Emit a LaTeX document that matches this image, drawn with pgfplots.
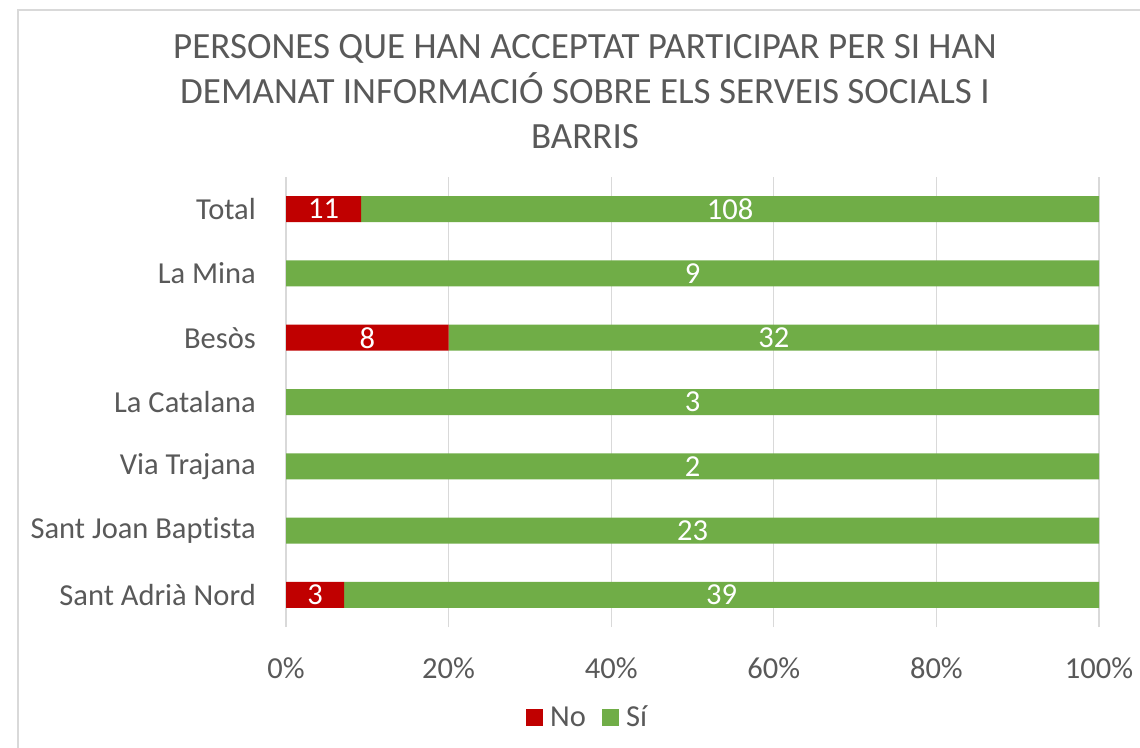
\documentclass[border=0pt]{standalone}
\usepackage{pgfplots}
\pgfplotsset{compat=1.18}
\usepackage{fontspec}
\setmainfont{Carlito}[Ligatures=NoCommon]
\definecolor{txt}{HTML}{595959}
\definecolor{nored}{HTML}{C00000}
\definecolor{sigreen}{HTML}{70AD47}
\definecolor{gridc}{HTML}{D9D9D9}
\begin{document}
\begin{tikzpicture}[x=1pt,y=1pt]
\useasboundingbox (0,0) rectangle (1140,-747);
\clip (0,0) rectangle (1140,-747);
\fill[white] (0,0) rectangle (1140,-747);
\draw[gridc, line width=1.5pt] (18,-10) rectangle (1200,-800);
\node[align=center, text=txt, font=\fontsize{37}{45}\selectfont] at (585,-92) {PERSONES QUE HAN ACCEPTAT PARTICIPAR PER SI HAN\\DEMANAT INFORMACIÓ SOBRE ELS SERVEIS SOCIALS I\\BARRIS};
\begin{axis}[
  at={(286pt,-627pt)}, anchor=south west,
  width=813pt, height=450pt, scale only axis,
  xbar stacked, bar width=26pt,
  xmin=0, xmax=100, ymin=-0.5, ymax=6.5,
  axis line style={draw=none}, major tick length=0pt,
  xtick={0,20,40,60,80,100},
  xticklabels={0\%,20\%,40\%,60\%,80\%,100\%},
  ytick={0,1,2,3,4,5,6},
  yticklabels={Sant Adrià Nord, Sant Joan Baptista, Via Trajana, La Catalana, Besòs, La Mina, Total},
  xmajorgrids, major grid style={gridc, line width=1.2pt},
  tick label style={text=txt, font=\fontsize{30.5}{36}\selectfont, inner sep=0pt},
  xticklabel style={anchor=center, yshift=-41pt},
  yticklabel style={anchor=east, xshift=-30pt},
  nodes near coords, point meta=explicit symbolic,
  every node near coord/.append style={text=white, font=\fontsize{30.5}{36}\selectfont, anchor=center, inner sep=0pt},
  legend style={draw=none, at={(0.371,-0.2)}, anchor=center, legend columns=2,
    font=\fontsize{30.5}{36}\selectfont, text=txt,
    /tikz/every even column/.append style={column sep=14pt}},
  legend image code/.code={\fill[#1] (0pt,-8.5pt) rectangle (17pt,8.5pt);\path (22pt,0pt);},
]
\addplot[fill=nored, draw=none]
  coordinates {(7.1429,0) [3] (0,1) [] (0,2) [] (0,3) [] (20,4) [8] (0,5) [] (9.2437,6) [11]};
\addplot[fill=sigreen, draw=none]
  coordinates {(92.8571,0) [39] (100,1) [23] (100,2) [2] (100,3) [3] (80,4) [32] (100,5) [9] (90.7563,6) [108]};
\legend{No, Sí}
\end{axis}
\end{tikzpicture}
\end{document}
